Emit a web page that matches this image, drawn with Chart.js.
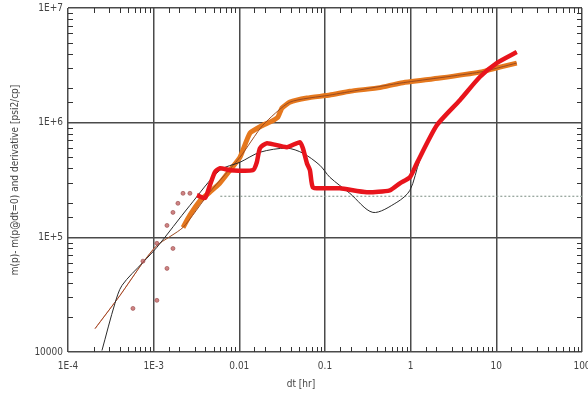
<!DOCTYPE html>
<html>
<head>
<meta charset="utf-8">
<script src="https://cdn.jsdelivr.net/npm/chart.js@4/dist/chart.umd.min.js"></script>
<style>
  html, body { margin: 0; padding: 0; background: #fff; }
  #wrap { width: 588px; height: 401px; }
</style>
</head>
<body>
<div id="wrap"><canvas id="c"></canvas></div>
<script>
// tick labels
let xTickLabels = ['1E-4', '1E-3', '0.01', '0.1', '1', '10', '100'];
let yTickLabels = ['10000', '1E+5', '1E+6', '1E+7'];

// pressure change (orange points)
let dtPress = [0.0022, 0.00265, 0.0035, 0.0045, 0.0059, 0.0078, 0.0102, 0.0133, 0.0188, 0.0227, 0.0282, 0.0314, 0.0389, 0.0615, 0.114, 0.195, 0.437, 0.748, 2.19, 6.41, 11.0, 17.3];
let dpPress = [122000, 156000, 210000, 247000, 296000, 385000, 500000, 810000, 950000, 1010000, 1120000, 1340000, 1510000, 1640000, 1740000, 1880000, 2020000, 2210000, 2450000, 2760000, 3050000, 3310000];

// derivative (red points)
let dtDeriv = [0.0032, 0.00397, 0.00454, 0.00519, 0.00594, 0.00777, 0.0144, 0.016, 0.0174, 0.021, 0.0359, 0.051, 0.0552, 0.0615, 0.0667, 0.0722, 0.0945, 0.149, 0.308, 0.571, 0.748, 0.98, 1.18, 2.02, 3.75, 6.41, 10.1, 17.3];
let dpDeriv = [233000, 220000, 285000, 370000, 401000, 385000, 385000, 452000, 599000, 662000, 611000, 676000, 599000, 443000, 385000, 273000, 268000, 268000, 247000, 257000, 296000, 334000, 443000, 950000, 1570000, 2500000, 3310000, 4130000];

// early scattered derivative points
let dtEarly = [0.000573, 0.00075, 0.00109, 0.00109, 0.00143, 0.00168, 0.00143, 0.00168, 0.00192, 0.0022, 0.00265];
let dpEarly = [24000, 62000, 28200, 88700, 53600, 80000, 127000, 165000, 198000, 242000, 242000];

// model derivative (black line)
let dtModelD = [0.000249, 0.000353, 0.000427, 0.00075, 0.00109, 0.00265, 0.00594, 0.0102, 0.0174, 0.0359, 0.0552, 0.0871, 0.114, 0.195, 0.362, 0.69, 0.98, 1.28, 2.02, 3.75, 6.41, 10.1, 17.3];
let dpModelD = [10300, 26500, 38100, 60500, 81800, 190000, 385000, 452000, 552000, 599000, 542000, 425000, 334000, 242000, 165000, 202000, 257000, 470000, 950000, 1570000, 2500000, 3310000, 4130000];

// model pressure (thin line)
let dtModelP = [0.000207, 0.000404, 0.00075, 0.00109, 0.0022, 0.0045, 0.0102, 0.0188, 0.0389, 0.114, 0.748, 6.41, 17.3];
let dpModelP = [16000, 31100, 60500, 85000, 122000, 247000, 500000, 950000, 1510000, 1740000, 2210000, 2760000, 3310000];

// radial flow stabilisation level (dotted)
let dtLevel = [0.006, 100];
let dpLevel = [228000, 228000];

function pts(xs, ys) {
    return xs.map((x, i) => ({ x: x, y: ys[i] }));
}

function isDecade(v) {
    let l = Math.log10(v);
    return Math.abs(l - Math.round(l)) < 1e-6;
}

const FONT = "'DejaVu Sans Condensed', 'DejaVu Sans', sans-serif";

// inward minor ticks on all four sides, plus the x title
const frameTicks = {
    id: 'frameTicks',
    afterDraw(chart) {
        let ctx = chart.ctx;
        let a = chart.chartArea;
        let xs = chart.scales.x, ys = chart.scales.y;
        ctx.save();
        ctx.strokeStyle = '#333';
        ctx.lineWidth = 1;
        ctx.beginPath();
        for (let t of xs.ticks) {
            if (isDecade(t.value)) continue;
            let px = Math.round(xs.getPixelForValue(t.value)) + 0.5;
            ctx.moveTo(px, a.bottom); ctx.lineTo(px, a.bottom - 5);
            ctx.moveTo(px, a.top); ctx.lineTo(px, a.top + 5);
        }
        for (let t of ys.ticks) {
            if (isDecade(t.value)) continue;
            let py = Math.round(ys.getPixelForValue(t.value)) + 0.5;
            ctx.moveTo(a.left, py); ctx.lineTo(a.left + 5, py);
            ctx.moveTo(a.right, py); ctx.lineTo(a.right - 5, py);
        }
        ctx.stroke();

        ctx.fillStyle = '#444';
        ctx.font = '10px ' + FONT;
        ctx.textAlign = 'center';
        ctx.textBaseline = 'middle';
        ctx.fillText('dt [hr]', 301, 384);
        ctx.restore();
    }
};

new Chart(document.getElementById('c'), {
    type: 'scatter',
    data: {
        datasets: [
            {
                label: 'early',
                data: pts(dtEarly, dpEarly),
                showLine: false,
                pointRadius: 2,
                pointBackgroundColor: 'rgba(190,90,90,0.75)',
                pointBorderColor: 'rgba(150,70,70,0.6)',
                pointBorderWidth: 1,
                order: 0
            },
            {
                label: 'derivative',
                data: pts(dtDeriv, dpDeriv),
                showLine: true,
                borderColor: '#e8141c',
                borderWidth: 4.5,
                pointRadius: 0,
                tension: 0.2,
                order: 1
            },
            {
                label: 'model derivative',
                data: pts(dtModelD, dpModelD),
                showLine: true,
                borderColor: '#2a2a2a',
                borderWidth: 1,
                pointRadius: 0,
                tension: 0.3,
                order: 2
            },
            {
                label: 'model pressure',
                data: pts(dtModelP, dpModelP),
                showLine: true,
                borderColor: '#9a4a20',
                borderWidth: 1,
                pointRadius: 0,
                tension: 0.2,
                order: 3
            },
            {
                label: 'pressure',
                data: pts(dtPress, dpPress),
                showLine: true,
                borderColor: '#e5781e',
                borderWidth: 5,
                pointRadius: 0,
                tension: 0.15,
                order: 4
            },
            {
                label: 'early model pressure',
                data: pts(dtModelP.slice(0, 4), dpModelP.slice(0, 4)),
                showLine: true,
                borderColor: '#ee8a8a',
                borderWidth: 1,
                pointRadius: 0,
                order: 5
            },
            {
                label: 'level',
                data: pts(dtLevel, dpLevel),
                showLine: true,
                borderColor: '#8f9f96',
                borderWidth: 1.2,
                borderDash: [2, 2],
                pointRadius: 0,
                order: 6
            }
        ]
    },
    options: {
        responsive: true,
        maintainAspectRatio: false,
        animation: false,
        layout: { padding: { top: 8, right: 6, left: 0, bottom: 0 } },
        plugins: {
            legend: { display: false },
            tooltip: { enabled: false }
        },
        scales: {
            x: {
                type: 'logarithmic',
                min: 1e-4,
                max: 100,
                afterFit(s) { s.height = 49; s.paddingLeft = 0; s.paddingRight = 0; },
                border: { display: false },
                grid: {
                    drawTicks: false,
                    color: c => isDecade(c.tick.value) ? '#4a4a4a' : 'rgba(0,0,0,0)',
                    lineWidth: 1.5
                },
                ticks: {
                    autoSkip: false,
                    maxRotation: 0,
                    padding: 8,
                    color: '#444',
                    font: { family: FONT, size: 10 },
                    callback: v => isDecade(v) ? xTickLabels[Math.round(Math.log10(v)) + 4] : ''
                }
            },
            y: {
                type: 'logarithmic',
                min: 1e4,
                max: 1e7,
                afterFit(s) { s.width = 68; s.paddingTop = 0; s.paddingBottom = 0; },
                border: { display: false },
                grid: {
                    drawTicks: false,
                    color: c => isDecade(c.tick.value) ? '#4a4a4a' : 'rgba(0,0,0,0)',
                    lineWidth: 1.5
                },
                ticks: {
                    autoSkip: false,
                    padding: 5,
                    color: '#444',
                    font: { family: FONT, size: 10 },
                    callback: v => isDecade(v) ? yTickLabels[Math.round(Math.log10(v)) - 4] : ''
                },
                title: {
                    display: true,
                    text: 'm(p)- m(p@dt=0) and derivative [psi2/cp]',
                    color: '#444',
                    font: { family: FONT, size: 10 },
                    padding: { top: 9, bottom: 9 }
                }
            }
        }
    },
    plugins: [frameTicks]
});
</script>
</body>
</html>
